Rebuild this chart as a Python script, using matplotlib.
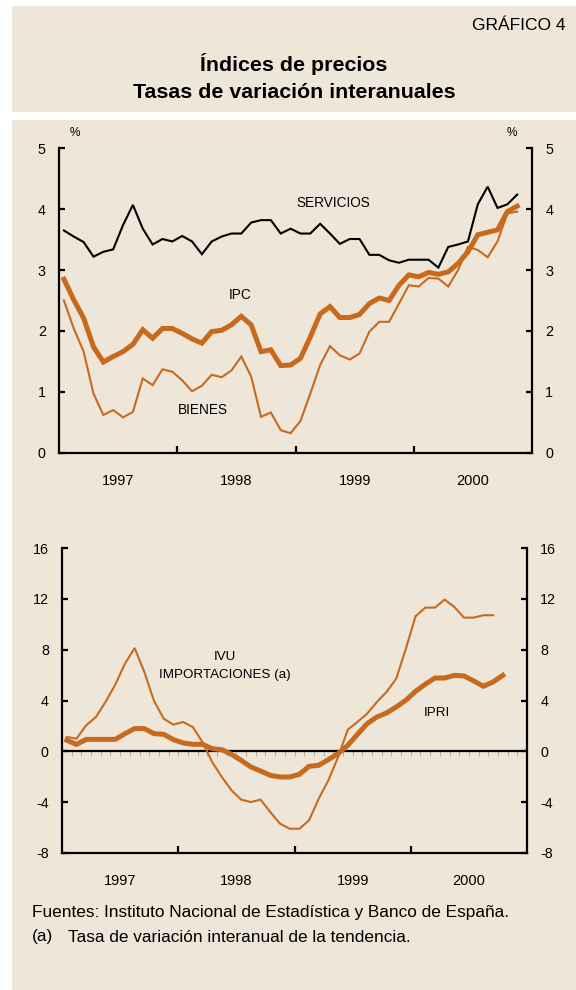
import numpy as np
import matplotlib
matplotlib.use("Agg")
import matplotlib.pyplot as plt
from matplotlib.patches import Rectangle
from matplotlib.ticker import FixedLocator, NullFormatter, FixedFormatter

plt.rcParams['font.family'] = ['Liberation Sans', 'DejaVu Sans']
plt.rcParams['axes.unicode_minus'] = False

# ---------------- data (monthly, starting Jan 1997) ----------------
servicios = [3.65, 3.55, 3.46, 3.22, 3.30, 3.34, 3.74, 4.07, 3.68, 3.42,
             3.51, 3.47, 3.56, 3.47, 3.26, 3.47, 3.55, 3.60, 3.60, 3.78,
             3.82, 3.82, 3.60, 3.68, 3.60, 3.60, 3.76, 3.60, 3.43, 3.51,
             3.51, 3.25, 3.25, 3.16, 3.12, 3.17, 3.17, 3.17, 3.04, 3.38,
             3.42, 3.47, 4.08, 4.37, 4.02, 4.08, 4.24]
ipc = [2.85, 2.51, 2.21, 1.74, 1.49, 1.58, 1.66, 1.78, 2.02, 1.88,
       2.04, 2.04, 1.96, 1.87, 1.80, 1.99, 2.01, 2.10, 2.24, 2.10,
       1.66, 1.69, 1.43, 1.44, 1.55, 1.90, 2.28, 2.40, 2.22, 2.22,
       2.27, 2.45, 2.54, 2.50, 2.75, 2.92, 2.89, 2.96, 2.93, 2.97,
       3.11, 3.30, 3.58, 3.62, 3.66, 3.96, 4.05]
bienes = [2.50, 2.04, 1.66, 0.97, 0.62, 0.70, 0.58, 0.67, 1.22, 1.11,
          1.37, 1.33, 1.19, 1.01, 1.10, 1.28, 1.24, 1.35, 1.58, 1.25,
          0.59, 0.66, 0.37, 0.32, 0.52, 0.97, 1.44, 1.75, 1.60, 1.53,
          1.63, 1.99, 2.15, 2.15, 2.45, 2.75, 2.73, 2.87, 2.86, 2.73,
          3.00, 3.38, 3.33, 3.21, 3.47, 3.93, 3.96]
ivu = [1.13, 1.00, 2.05, 2.70, 3.90, 5.25, 6.90, 8.13, 6.24, 3.96,
       2.57, 2.10, 2.31, 1.91, 0.73, -0.84, -2.02, -3.07, -3.80, -3.99,
       -3.80, -4.78, -5.69, -6.09, -6.09, -5.43, -3.73, -2.28, -0.45, 1.71,
       2.31, 2.97, 3.88, 4.67, 5.72, 8.08, 10.63, 11.31, 11.31, 11.94,
       11.36, 10.52, 10.52, 10.71, 10.71]
ipri = [0.87, 0.55, 0.94, 0.94, 0.94, 0.94, 1.39, 1.79, 1.79, 1.39,
        1.34, 0.92, 0.66, 0.55, 0.55, 0.21, 0.13, -0.24, -0.71, -1.23,
        -1.55, -1.89, -2.02, -2.02, -1.81, -1.18, -1.10, -0.65, -0.18, 0.47,
        1.34, 2.18, 2.70, 3.02, 3.49, 4.02, 4.72, 5.28, 5.77, 5.77,
        5.98, 5.93, 5.54, 5.12, 5.46, 5.98]

years = [1997, 1998, 1999, 2000]
year_labels = ['1997', '1998', '1999', '2000']
top_yticks = [0, 1, 2, 3, 4, 5]
bot_yticks = [-8, -4, 0, 4, 8, 12, 16]


def month_x(values, start=1997):
    return start + (np.arange(len(values)) + 0.5) / 12.0


# ---------------- style ----------------
BG = '#EEE6D8'
ORANGE = '#C86A1E'
W, H = 576, 990
fig = plt.figure(figsize=(W / 100, H / 100), dpi=100)
fig.patch.set_facecolor('white')


def fx(px):
    return px / W


def fy(py):
    return 1 - py / H


# background panels
fig.patches.append(Rectangle((fx(12), fy(112)), fx(576) - fx(12), fy(6) - fy(112),
                             transform=fig.transFigure, facecolor=BG, edgecolor='none', zorder=-10))
fig.patches.append(Rectangle((fx(12), fy(990)), fx(576) - fx(12), fy(120) - fy(990),
                             transform=fig.transFigure, facecolor=BG, edgecolor='none', zorder=-10))

fig.text(fx(566), fy(25), 'GRÁFICO 4', ha='right', va='center', fontsize=12.5)
fig.text(fx(294), fy(64), 'Índices de precios', ha='center', va='center',
         fontsize=15.4, fontweight='bold')
fig.text(fx(294), fy(92), 'Tasas de variación interanuales', ha='center', va='center',
         fontsize=15.4, fontweight='bold')


def setup_axes(ax, ylim, yticks):
    ax.set_facecolor('none')
    ax.set_zorder(1)
    ax.set_xlim(1997, 2001)
    ax.set_ylim(*ylim)
    for s in ['left', 'right', 'bottom']:
        ax.spines[s].set_linewidth(1.6)
        ax.spines[s].set_color('black')
    ax.spines['top'].set_visible(False)
    ax.set_yticks(yticks)
    ax.tick_params(axis='y', which='both', direction='in', length=4, width=1.6,
                   labelsize=10.3, pad=9.5, left=True, right=True,
                   labelleft=True, labelright=True)
    ax.xaxis.set_major_locator(FixedLocator([1998, 1999, 2000]))
    ax.xaxis.set_major_formatter(NullFormatter())
    ax.xaxis.set_minor_locator(FixedLocator([y + 0.5 for y in years]))
    ax.xaxis.set_minor_formatter(FixedFormatter(year_labels))
    ax.tick_params(axis='x', which='major', direction='in', length=5, width=1.6)
    ax.tick_params(axis='x', which='minor', length=0, labelsize=10.5, pad=15)


# ---------------- top chart ----------------
ax1 = fig.add_axes([fx(59), fy(452.7), fx(532) - fx(59), fy(148.3) - fy(452.7)])
setup_axes(ax1, (0, 5), top_yticks)
ax1.plot(month_x(bienes), bienes, color=ORANGE, lw=1.5, solid_joinstyle='miter')
ax1.plot(month_x(ipc), ipc, color=ORANGE, lw=3.6, solid_joinstyle='miter')
ax1.plot(month_x(servicios), servicios, color='black', lw=1.5, solid_joinstyle='miter')

fig.text(fx(75), fy(133), '%', ha='center', va='center', fontsize=8.5)
fig.text(fx(512), fy(133), '%', ha='center', va='center', fontsize=8.5)
fig.text(fx(333), fy(203), 'SERVICIOS', ha='center', va='center', fontsize=9.8)
fig.text(fx(240), fy(295), 'IPC', ha='center', va='center', fontsize=9.8)
fig.text(fx(203), fy(410), 'BIENES', ha='center', va='center', fontsize=9.8)

# ---------------- bottom chart ----------------
ax2 = fig.add_axes([fx(62), fy(853), fx(527) - fx(62), fy(548) - fy(853)])
setup_axes(ax2, (-8, 16), bot_yticks)
ax2.axhline(0, color='black', lw=1.6, zorder=3)
month_edges = 1997 + np.arange(1, 48) / 12.0
ax2.vlines(month_edges, -0.35, 0, color='#B8B0A2', lw=0.8, zorder=2)
ax2.plot(month_x(ivu), ivu, color=ORANGE, lw=1.5, solid_joinstyle='miter', zorder=4)
ax2.plot(month_x(ipri), ipri, color=ORANGE, lw=3.6, solid_joinstyle='miter', zorder=4)

fig.text(fx(225), fy(657), 'IVU', ha='center', va='center', fontsize=9.6)
fig.text(fx(225), fy(675), 'IMPORTACIONES (a)', ha='center', va='center', fontsize=9.6)
fig.text(fx(437), fy(713), 'IPRI', ha='center', va='center', fontsize=9.6)

# ---------------- footnotes ----------------
fig.text(fx(32), fy(912), 'Fuentes: Instituto Nacional de Estadística y Banco de España.',
         ha='left', va='center', fontsize=12.4)
fig.text(fx(32), fy(937), '(a)', ha='left', va='center', fontsize=12.4)
fig.text(fx(68), fy(937), 'Tasa de variación interanual de la tendencia.',
         ha='left', va='center', fontsize=12.4)

fig.savefig('out.png', dpi=100, facecolor=fig.get_facecolor())
